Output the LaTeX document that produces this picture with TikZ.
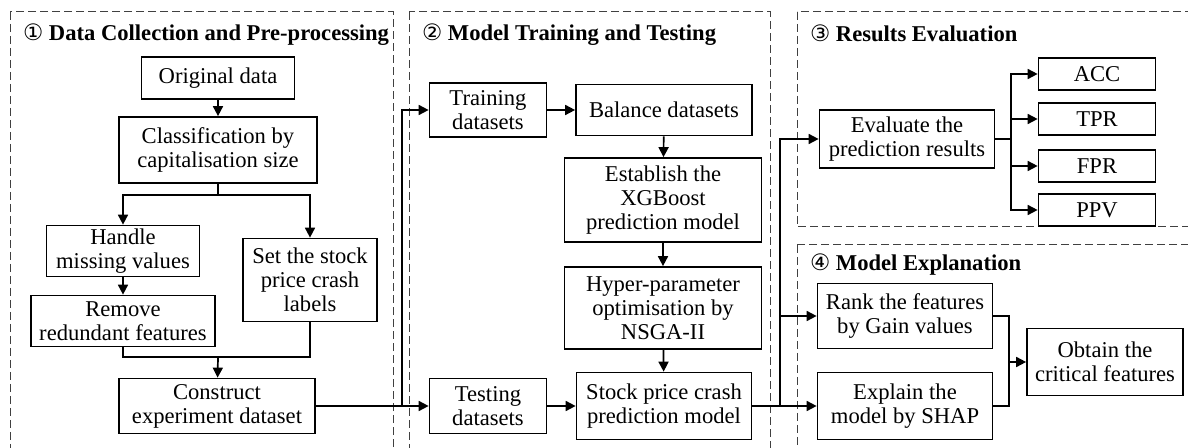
\documentclass[tikz,border=0pt]{standalone}
\usepackage{fontspec}
\setmainfont{Liberation Serif}
\newfontfamily\circfont{DejaVu Sans}
\usetikzlibrary{arrows.meta}

\begin{document}
\begin{tikzpicture}[x=0.5pt,y=-0.5pt,
        font=\fontsize{11.3}{12}\selectfont,
        box/.style={draw,line width=0.85pt,align=center,inner sep=0pt},
        arr/.style={line width=0.85pt,-{Triangle[length=5pt,width=5pt]}},
        lnk/.style={line width=0.85pt},
        panel/.style={draw=black!75,line width=0.5pt,dash pattern=on 4pt off 2pt},
        ttl/.style={anchor=west,font=\fontsize{11.3}{12}\selectfont\bfseries}]
    \useasboundingbox (0,0) rectangle (1188,448);
    \clip (0,0) rectangle (1188,448);

    % panels
    \draw[panel] (10,12) rectangle (393,470);
    \draw[panel] (409,12) rectangle (770,470);
    \draw[panel] (797,12) rectangle (1200,227);
    \draw[panel] (797,245) rectangle (1200,470);

    \node[ttl] (t1) at (16,35) {{\circfont\mdseries ①} Data Collection and Pre-processing};
    \node[ttl] (t2) at (415,35) {{\circfont\mdseries ②} Model Training and Testing};
    \node[ttl] (t3) at (803,33) {{\circfont\mdseries ③} Results Evaluation};
    \node[ttl] (t4) at (803,265) {{\circfont\mdseries ④} Model Explanation};

    % panel 1
    \node[box,minimum width=76.5pt,minimum height=21pt] (orig) at (218,78) {Original data};
    \node[box,minimum width=99pt,minimum height=33pt] (classif) at (218,150) {Classification by\\capitalisation size};
    \node[box,minimum width=76.5pt,minimum height=25.5pt] (handle) at (123,251) {Handle\\missing values};
    \node[box,minimum width=92pt,minimum height=25.5pt] (remove) at (123,321) {Remove\\redundant features};
    \node[box,minimum width=67pt,minimum height=41.5pt] (setlab) at (310,280) {Set the stock\\price crash\\labels};
    \node[box,minimum width=98pt,minimum height=27.5pt] (construct) at (217,406) {Construct\\experiment dataset};

    % panel 2
    \node[box,minimum width=58.5pt,minimum height=27pt] (train) at (488,110) {Training\\datasets};
    \node[box,minimum width=88pt,minimum height=25.5pt] (balance) at (664,110) {Balance datasets};
    \node[box,minimum width=98.5pt,minimum height=42pt] (xgb) at (663,200) {Establish the\\XGBoost\\prediction model};
    \node[box,minimum width=98.5pt,minimum height=41pt] (hyper) at (663,308) {Hyper-parameter\\optimisation by\\NSGA-II};
    \node[box,minimum width=58.5pt,minimum height=27.5pt] (test) at (488,406) {Testing\\datasets};
    \node[box,minimum width=87.5pt,minimum height=33.5pt] (stock) at (664,406) {Stock price crash\\prediction model};

    % panel 3
    \node[box,minimum width=87.5pt,minimum height=29pt] (eval) at (907,139) {Evaluate the\\prediction results};
    \node[box,minimum width=58.5pt,minimum height=16pt] (acc) at (1097,74) {ACC};
    \node[box,minimum width=58.5pt,minimum height=16pt] (tpr) at (1097,119) {TPR};
    \node[box,minimum width=58.5pt,minimum height=16pt] (fpr) at (1097,166) {FPR};
    \node[box,minimum width=58.5pt,minimum height=16pt] (ppv) at (1097,210) {PPV};

    % panel 4
    \node[box,minimum width=87.5pt,minimum height=32.5pt] (rank) at (905,316) {Rank the features\\by Gain values};
    \node[box,minimum width=87.5pt,minimum height=33.5pt] (explain) at (905,406) {Explain the\\model by SHAP};
    \node[box,minimum width=78pt,minimum height=33.5pt] (obtain) at (1105,362) {Obtain the\\critical features};

    \coordinate (s1) at (218,195);
    \coordinate (m1) at (218,357);
    \coordinate (j1) at (402,406);
    \coordinate (j2) at (780,406);
    \coordinate (f3) at (1011,139);
    \coordinate (m4) at (1009,362);

    \draw[arr] (orig) -- (classif);
    \draw[lnk] (classif) -- (s1);
    \draw[arr] (s1) -| (handle);
    \draw[arr] (s1) -| (setlab);
    \draw[arr] (handle) -- (remove);
    \draw[lnk] (remove.south) |- (m1);
    \draw[lnk] (setlab.south) |- (m1);
    \draw[arr] (m1) -- (construct);

    \draw[lnk] (construct) -- (j1);
    \draw[arr] (j1) |- (train);
    \draw[arr] (j1) -- (test);
    \draw[arr] (train) -- (balance);
    \draw[arr] (balance) -- (xgb);
    \draw[arr] (xgb) -- (hyper);
    \draw[arr] (hyper) -- (stock);
    \draw[arr] (test) -- (stock);

    \draw[lnk] (stock) -- (j2);
    \draw[arr] (j2) |- (eval);
    \draw[arr] (j2) |- (rank);
    \draw[arr] (j2) -- (explain);

    \draw[lnk] (eval) -- (f3);
    \draw[arr] (f3) |- (acc);
    \draw[arr] (f3) |- (tpr);
    \draw[arr] (f3) |- (fpr);
    \draw[arr] (f3) |- (ppv);

    \draw[lnk] (rank.east) -| (m4);
    \draw[lnk] (explain.east) -| (m4);
    \draw[arr] (m4) -- (obtain);

\end{tikzpicture}
\end{document}
